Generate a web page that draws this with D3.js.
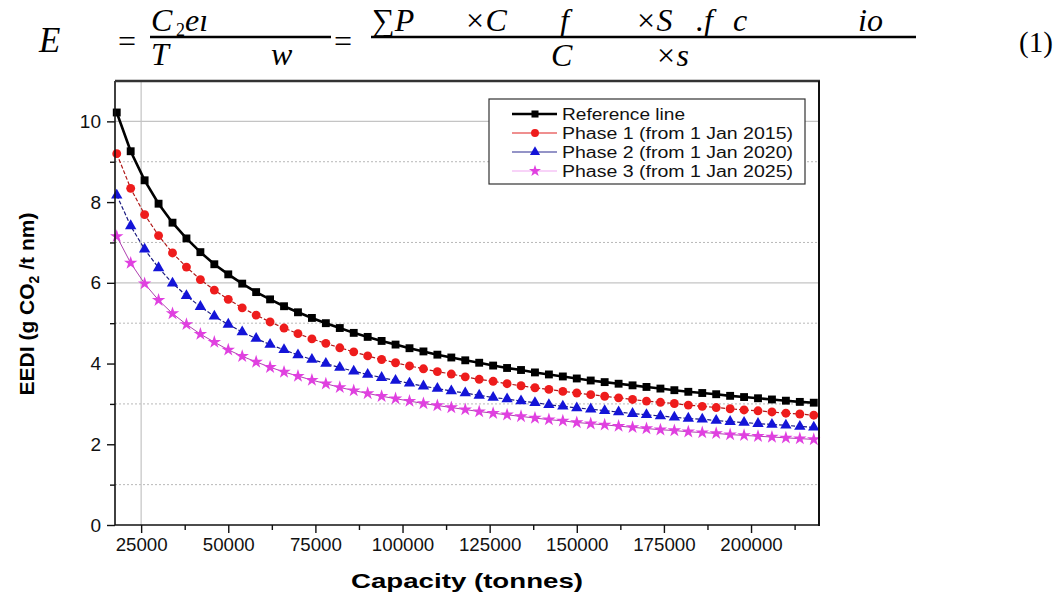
<!DOCTYPE html>
<html><head><meta charset="utf-8">
<script src="https://cdn.jsdelivr.net/npm/d3@7"></script>
<style>
body{margin:0;background:#fff;}
svg{display:block;}
</style></head><body>
<svg id="chart" width="1061" height="597"></svg>
<script>
// ---------- data ----------
const capacity = [18000,22000,26000,30000,34000,38000,42000,46000,50000,54000,58000,62000,66000,70000,74000,78000,82000,86000,90000,94000,98000,102000,106000,110000,114000,118000,122000,126000,130000,134000,138000,142000,146000,150000,154000,158000,162000,166000,170000,174000,178000,182000,186000,190000,194000,198000,202000,206000,210000,214000,218000];
const referenceLine = [10.22,9.26,8.54,7.96,7.49,7.10,6.76,6.46,6.21,5.98,5.77,5.59,5.42,5.27,5.13,5.00,4.88,4.76,4.66,4.56,4.47,4.38,4.30,4.22,4.15,4.08,4.02,3.95,3.89,3.84,3.78,3.73,3.68,3.63,3.58,3.54,3.50,3.46,3.42,3.38,3.34,3.30,3.27,3.24,3.20,3.17,3.14,3.11,3.08,3.05,3.03];
const phase1 = [9.20,8.34,7.69,7.17,6.74,6.39,6.08,5.82,5.59,5.38,5.20,5.03,4.88,4.74,4.61,4.50,4.39,4.29,4.19,4.10,4.02,3.94,3.87,3.80,3.74,3.67,3.61,3.56,3.50,3.45,3.40,3.36,3.31,3.27,3.23,3.19,3.15,3.11,3.07,3.04,3.01,2.97,2.94,2.91,2.88,2.85,2.83,2.80,2.77,2.75,2.72];
const phase2 = [8.17,7.41,6.83,6.37,5.99,5.68,5.41,5.17,4.97,4.78,4.62,4.47,4.34,4.21,4.10,4.00,3.90,3.81,3.73,3.65,3.58,3.51,3.44,3.38,3.32,3.27,3.21,3.16,3.12,3.07,3.03,2.98,2.94,2.90,2.87,2.83,2.80,2.76,2.73,2.70,2.67,2.64,2.62,2.59,2.56,2.54,2.51,2.49,2.47,2.44,2.42];
const phase3 = [7.15,6.49,5.98,5.57,5.24,4.97,4.73,4.53,4.34,4.18,4.04,3.91,3.79,3.69,3.59,3.50,3.41,3.33,3.26,3.19,3.13,3.07,3.01,2.96,2.91,2.86,2.81,2.77,2.73,2.69,2.65,2.61,2.58,2.54,2.51,2.48,2.45,2.42,2.39,2.36,2.34,2.31,2.29,2.27,2.24,2.22,2.20,2.18,2.16,2.14,2.12];
const seriesNames = ["Reference line","Phase 1 (from 1 Jan 2015)","Phase 2 (from 1 Jan 2020)","Phase 3 (from 1 Jan 2025)"];
const xTicks = [25000,50000,75000,100000,125000,150000,175000,200000];
const xMinorTicks = [37500,62500,87500,112500,137500,162500,187500,212500];
const yTicks = [0,2,4,6,8,10];
const yMinorTicks = [1,3,5,7,9];
const solidGridY = [6,10];
const dottedGridY = [1,3,5,7,9];
const gridX = [25000];
const xTitle = "Capacity (tonnes)";

// ---------- layout ----------
const svg = d3.select("#chart");
const L = 115, R = 819, T = 81, B = 525;
const x = d3.scaleLinear().domain([17500, 219500]).range([L, R]);
const y = d3.scaleLinear().domain([0, 11]).range([B, T]);
const FONT = "'Liberation Sans', Arial, sans-serif";

// ---------- equation (header) ----------
const eq = svg.append("g").attr("font-family","'Liberation Serif', 'DejaVu Serif', serif").attr("fill","#000");
const eqParts = [
  ["E",39,52,35,true],["=",118,52,32,false],
  ["C",151,31,32,true],["2",176,36,18,false],["e\u0131",185,31,32,true],
  ["T",151,65,32,true],["w",271,65,32,true],
  ["=",334,52,32,false],
  ["\u2211P",372,31,32,true],["\u00D7C",464,31,32,true],["f",560,31,32,true],["\u00D7S",635,31,32,true],
  [".f",696,31,32,true],["c",733,31,32,true],["io",858,31,32,true],
  ["C",551,66,32,true],["\u00D7s",655,66,32,true],
  ["(1)",1019,52,29,false]
];
eq.selectAll("text").data(eqParts).join("text")
  .attr("x",d=>d[1]).attr("y",d=>d[2]).attr("font-size",d=>d[3])
  .attr("font-style",d=>d[4]?"italic":"normal").text(d=>d[0]);
eq.append("line").attr("x1",150).attr("x2",331).attr("y1",37).attr("y2",37).attr("stroke","#000").attr("stroke-width",2.4);
eq.append("line").attr("x1",371).attr("x2",916).attr("y1",37).attr("y2",37).attr("stroke","#000").attr("stroke-width",2.4);

// ---------- grid ----------
const grid = svg.append("g");
grid.selectAll("line.sg").data(solidGridY).join("line").attr("class","sg")
  .attr("x1",L).attr("x2",R).attr("y1",d=>y(d)).attr("y2",d=>y(d))
  .attr("stroke","#c4c4c4").attr("stroke-width",1.2);
grid.selectAll("line.dg").data(dottedGridY).join("line").attr("class","dg")
  .attr("x1",L).attr("x2",R).attr("y1",d=>y(d)).attr("y2",d=>y(d))
  .attr("stroke","#b8b8b8").attr("stroke-width",1).attr("stroke-dasharray","2,2");
grid.selectAll("line.vg").data(gridX).join("line").attr("class","vg")
  .attr("x1",d=>x(d)).attr("x2",d=>x(d)).attr("y1",T).attr("y2",B)
  .attr("stroke","#c4c4c4").attr("stroke-width",1.2);

// ---------- series ----------
const series = [
  {name:seriesNames[0], values:referenceLine, line:"#000", lw:2.6, dash:null, mark:"#000", sym:d3.symbolSquare, size:62, legLine:"#000", legW:2.6},
  {name:seriesNames[1], values:phase1, line:"#b01818", lw:1.2, dash:"4,2", mark:"#ee1c1c", sym:d3.symbolCircle, size:62, legLine:"#e02020", legW:1.2},
  {name:seriesNames[2], values:phase2, line:"#1a1a80", lw:1.2, dash:"4,2", mark:"#1414d8", sym:d3.symbolTriangle, size:56, legLine:"#2a2a90", legW:1.2},
  {name:seriesNames[3], values:phase3, line:"#b040b0", lw:1, dash:null, mark:"#e040e0", sym:d3.symbolStar, size:56, legLine:"#f2a8f2", legW:1.2}
];
const lineGen = d3.line().x((d,i)=>x(capacity[i])).y(d=>y(d));
const plot = svg.append("g");
series.slice().reverse().forEach(s=>{
  plot.append("path").datum(s.values).attr("d",lineGen).attr("fill","none")
    .attr("stroke",s.line).attr("stroke-width",s.lw).attr("stroke-dasharray",s.dash);
  plot.selectAll(null).data(s.values).join("path")
    .attr("transform",(d,i)=>`translate(${x(capacity[i])},${y(d)})`)
    .attr("d",d3.symbol().type(s.sym).size(s.size)).attr("fill",s.mark);
});

// ---------- axes ----------
const ax = svg.append("g").attr("font-family",FONT);
const xAxis = ax.append("g").attr("transform",`translate(0,${B})`)
  .call(d3.axisBottom(x).tickValues(xTicks).tickSize(8).tickPadding(5).tickFormat(d3.format("d")));
ax.append("g").attr("transform",`translate(0,${B})`)
  .call(d3.axisBottom(x).tickValues(xMinorTicks).tickSize(5).tickFormat(""));
const yAxis = ax.append("g").attr("transform",`translate(${L},0)`)
  .call(d3.axisLeft(y).tickValues(yTicks).tickSize(8).tickPadding(6));
ax.append("g").attr("transform",`translate(${L},0)`)
  .call(d3.axisLeft(y).tickValues(yMinorTicks).tickSize(5).tickFormat(""));
ax.selectAll(".domain").remove();
ax.selectAll(".tick line").attr("stroke","#111").attr("stroke-width",1.4);
ax.selectAll(".tick text").attr("font-size",18).attr("fill","#111").attr("font-family",FONT);
xAxis.selectAll(".tick text").attr("textLength",d=>String(d).length*10.4).attr("lengthAdjust","spacingAndGlyphs");
yAxis.selectAll(".tick text").attr("font-size",19);

// frame
svg.append("line").attr("x1",L).attr("x2",R).attr("y1",B).attr("y2",B).attr("stroke","#111").attr("stroke-width",1.6);
svg.append("line").attr("x1",L).attr("x2",L).attr("y1",T).attr("y2",B).attr("stroke","#111").attr("stroke-width",1.6);
svg.append("line").attr("x1",L).attr("x2",R+1).attr("y1",T).attr("y2",T).attr("stroke","#333").attr("stroke-width",2.6);
svg.append("line").attr("x1",R).attr("x2",R).attr("y1",T).attr("y2",B+1).attr("stroke","#111").attr("stroke-width",2);

// titles
svg.append("text").attr("x",(L+R)/2).attr("y",588).attr("text-anchor","middle")
  .attr("font-family",FONT).attr("font-weight","bold").attr("font-size",21)
  .attr("textLength",232).attr("lengthAdjust","spacingAndGlyphs").text(xTitle);
const yt = svg.append("text").attr("transform","translate(34,304) rotate(-90)")
  .attr("text-anchor","middle").attr("font-family",FONT).attr("font-weight","bold").attr("font-size",21);
yt.append("tspan").text("EEDI (g CO");
yt.append("tspan").attr("font-size",14).attr("dy",5).text("2");
yt.append("tspan").attr("dy",-5).text(" /t nm)");

// ---------- legend ----------
const lg = svg.append("g");
lg.append("rect").attr("x",489).attr("y",99).attr("width",316).attr("height",85)
  .attr("fill","#fff").attr("stroke","#333").attr("stroke-width",1.2);
const rows = lg.selectAll("g.row").data(series).join("g").attr("class","row")
  .attr("transform",(d,i)=>`translate(0,${114 + i*19})`);
rows.append("line").attr("x1",512).attr("x2",557).attr("y1",0).attr("y2",0)
  .attr("stroke",d=>d.legLine).attr("stroke-width",d=>d.legW);
rows.append("path").attr("transform","translate(535,0)")
  .attr("d",d=>d3.symbol().type(d.sym).size(d.size*0.8)()).attr("fill",d=>d.mark);
rows.append("text").attr("x",562).attr("y",6).attr("font-family",FONT).attr("font-size",16).attr("fill","#111")
  .attr("textLength",(d,i)=>i===0?123:231).attr("lengthAdjust","spacingAndGlyphs").text(d=>d.name);
</script>
</body></html>
